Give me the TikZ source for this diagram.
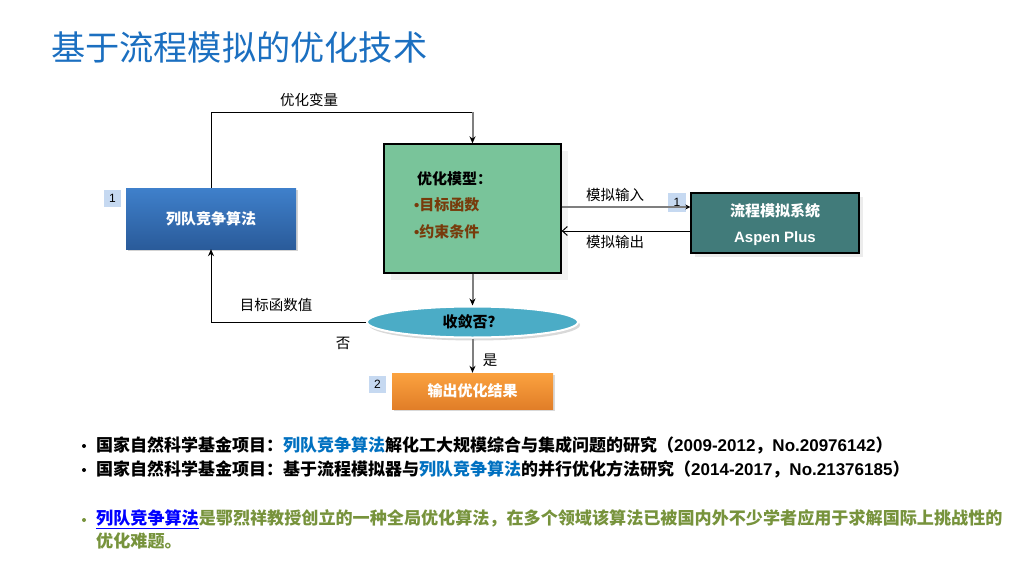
\documentclass[tikz,border=0pt]{standalone}
\usepackage{fontspec}
\setmainfont{Noto Sans CJK SC}
\newfontfamily\lat{Liberation Sans}
\usetikzlibrary{shapes.geometric,shadows,arrows.meta}
\definecolor{titleblue}{HTML}{1B6FC0}
\definecolor{lblue}{HTML}{C6D9F1}
\definecolor{boxtop}{HTML}{3F80CB}
\definecolor{boxbot}{HTML}{2A5B9A}
\definecolor{modelgreen}{HTML}{79C49A}
\definecolor{teal}{HTML}{417B7A}
\definecolor{ellblue}{HTML}{4BACC6}
\definecolor{orangetop}{HTML}{FBA23F}
\definecolor{orangebot}{HTML}{E17E28}
\definecolor{brown}{HTML}{773B0B}
\definecolor{linkblue}{HTML}{0070C0}
\definecolor{textgreen}{HTML}{77933C}
\definecolor{arrowgray}{HTML}{7F7F7F}
\tikzset{
  numbox/.style={fill=lblue, minimum width=17pt, minimum height=17pt, inner sep=0pt, font=\fontsize{12}{12}\selectfont\lat},
  lbl/.style={font=\fontsize{14.5}{15}\selectfont, inner sep=0pt},
  btxt/.style={font=\fontsize{15}{16}\selectfont\bfseries, text=white, inner sep=0pt},
  thinline/.style={draw=black, line width=1pt},
  grayarrow/.style={draw=arrowgray, line width=2pt, -{Stealth[length=7pt,width=6pt,color=black]}},
  bul/.style={circle, inner sep=0pt, minimum size=4pt},
  para/.style={anchor=west, inner sep=0pt, font=\fontsize{17}{20}\selectfont\bfseries},
}
\begin{document}
\begin{tikzpicture}[x=1pt,y=-1pt]
\useasboundingbox (0,0) rectangle (1018,573);
% title
\node[anchor=west, inner sep=0pt, text=titleblue, font=\fontsize{34.2}{36}\selectfont] (title) at (51,47) {基于流程模拟的优化技术};

% boxes
\node[draw=none, top color=boxtop, bottom color=boxbot, minimum width=170pt, minimum height=61pt,
      drop shadow={shadow xshift=2pt, shadow yshift=-2pt, opacity=0.35}] (lcs) at (211,218.5) {};
\node[btxt] (lcst) at (lcs.center) {列队竞争算法};
\node[numbox] (n1) at (112.5,198.5) {1};

\node[fill=black!5, minimum width=177pt, minimum height=129pt] (modelsh) at (479.5,215.5) {};
\node[draw=black, line width=1.3pt, fill=modelgreen, minimum width=177pt, minimum height=129pt] (model) at (472.5,208.5) {};
\node[anchor=west, inner sep=0pt, font=\fontsize{15}{16}\selectfont\bfseries] (m1) at (417,179) {优化模型：};
\node[anchor=west, inner sep=0pt, text=brown, font=\fontsize{15}{16}\selectfont\bfseries] (m2) at (414,205) {{\lat\textbullet}目标函数};
\node[anchor=west, inner sep=0pt, text=brown, font=\fontsize{15}{16}\selectfont\bfseries] (m3) at (414,232) {{\lat\textbullet}约束条件};

\node[draw=black, line width=1.3pt, fill=teal, minimum width=168pt, minimum height=60pt,
      drop shadow={shadow xshift=4pt, shadow yshift=-4pt, opacity=0.15}] (aspen) at (775,223) {};
\node[btxt] (a1) at (775,211) {流程模拟系统};
\node[btxt, font=\fontsize{15}{16}\selectfont\lat\bfseries] (a2) at (775,239) {Aspen Plus};
\node[numbox, minimum width=18pt, minimum height=19pt] (n1b) at (677,202.5) {1};

\node[ellipse, draw=white, line width=2pt, fill=ellblue, minimum width=211pt, minimum height=31pt, inner sep=0pt,
      drop shadow={shadow xshift=2pt, shadow yshift=-3pt, opacity=0.3}] (ell) at (472.5,322) {};
\node[inner sep=0pt, font=\fontsize{15}{16}\selectfont\bfseries] (ellt) at (ell.center) {收敛否？};

\node[top color=orangetop, bottom color=orangebot, minimum width=161pt, minimum height=36pt,
      drop shadow={shadow xshift=2pt, shadow yshift=-2pt, opacity=0.3}] (out) at (472.5,391) {};
\node[btxt] (outt) at (out.center) {输出优化结果};
\node[numbox] (n2) at (377.5,384.5) {2};

% connectors
\coordinate (top) at (472.5,112);
\draw[thinline] (lcs.north) |- (top);
\draw[grayarrow] (top) -- (model.north);
\node[lbl] (l1) at (309,100) {优化变量};

\draw[draw=arrowgray, line width=1.5pt, -{Stealth[length=5pt,width=5pt,color=black]}] (model.east |- 0,207) -- (aspen.west |- 0,207);
\draw[thinline, -{Straight Barb[length=5pt,width=9pt]}] (aspen.west |- 0,231) -- (model.east |- 0,231);
\node[lbl] (l2) at (615,195) {模拟输入};
\node[lbl] (l3) at (615,242) {模拟输出};

\draw[grayarrow] (model.south) -- (ell.north);
\draw[thinline, -{Stealth[length=7pt,width=6pt]}] (ell.west) -| (lcs.south);
\node[lbl] (l4) at (276,305) {目标函数值};
\node[lbl] (l5) at (343,343) {否};

\draw[grayarrow] (ell.south) -- (out.north);
\node[lbl] (l6) at (490,360) {是};

% bottom text
\node[bul, fill=black] (b1) at (84,446) {};
\node[para] (p1) at (96,445) {国家自然科学基金项目：\textcolor{linkblue}{列队竞争算法}解化工大规模综合与集成问题的研究（{\lat 2009-2012}，{\lat No.20976142}）};
\node[bul, fill=black] (b2) at (84,470) {};
\node[para] (p2) at (96,469) {国家自然科学基金项目：基于流程模拟器与\textcolor{linkblue}{列队竞争算法}的并行优化方法研究（{\lat 2014-2017}，{\lat No.21376185}）};
\node[bul, fill=textgreen] (b3) at (84,520) {};
\node[para, text=textgreen, font=\fontsize{17.1}{20}\selectfont\bfseries] (p3) at (96,519) {\textcolor{blue}{\underline{列队竞争算法}}是鄂烈祥教授创立的一种全局优化算法，在多个领域该算法已被国内外不少学者应用于求解国际上挑战性的};
\node[para, text=textgreen, font=\fontsize{17.1}{20}\selectfont\bfseries] (p4) at (96,541) {优化难题。};
\end{tikzpicture}
\end{document}
